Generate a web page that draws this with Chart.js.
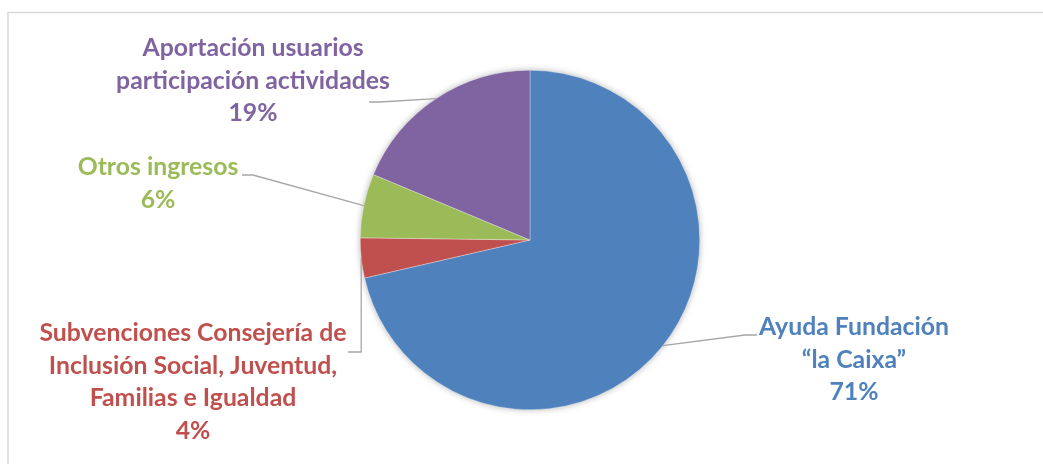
<!DOCTYPE html>
<html>
<head>
<meta charset="utf-8">
<script src="https://cdn.jsdelivr.net/npm/chart.js@4.4.0/dist/chart.umd.min.js"></script>
<style>
	body { margin: 0; background: #ffffff; }
	#wrap { width: 1043px; height: 464px; }
</style>
</head>
<body>
<div id="wrap"><canvas id="myChart" width="1043" height="464"></canvas></div>
<script>
// datos del gráfico
var categories = [
	'Ayuda Fundación “la Caixa”',
	'Subvenciones Consejería de Inclusión Social, Juventud, Familias e Igualdad',
	'Otros ingresos',
	'Aportación usuarios participación actividades'
];
var labelLines = [
	['Ayuda Fundación', '“la Caixa”'],
	['Subvenciones Consejería de', 'Inclusión Social, Juventud,', 'Familias e Igualdad'],
	['Otros ingresos'],
	['Aportación usuarios', 'participación actividades']
];
var values = [71.4, 3.8, 6.1, 18.7];
var colors = ['#4F81BD', '#C0504D', '#9BBB59', '#8064A2'];

// posicion de las etiquetas: centro x, primera linea base y, codo y final de la linea guia
var placement = [
	{ x: 854, y: 335, elbow: [745, 335], end: [757, 335] },
	{ x: 193, y: 341, elbow: [360, 352], end: [348, 352] },
	{ x: 158, y: 175, elbow: [253, 175], end: [242, 175] },
	{ x: 253, y: 56, elbow: [380, 102], end: [369, 102] }
];

var fontFamily = 'Lato, "Open Sans", sans-serif';
var lineHeight = 32.7;

var total = values.reduce(function(a, b) { return a + b; }, 0);

var framePlugin = {
	id: 'frame',
	beforeDraw: function(chart) {
		var ctx = chart.ctx;
		ctx.save();
		ctx.strokeStyle = '#D9D9D9';
		ctx.lineWidth = 1.5;
		ctx.strokeRect(8, 12.5, 1100, 500);
		ctx.restore();
	},
	beforeDatasetsDraw: function(chart) {
		// sombra suave alrededor del pastel
		var arc = chart.getDatasetMeta(0).data[0];
		var ctx = chart.ctx;
		ctx.save();
		ctx.shadowColor = 'rgba(0, 0, 0, 0.35)';
		ctx.shadowBlur = 7;
		ctx.fillStyle = '#ffffff';
		ctx.beginPath();
		ctx.arc(arc.x, arc.y, arc.outerRadius - 0.5, 0, Math.PI * 2);
		ctx.fill();
		ctx.restore();
	}
};

var labelPlugin = {
	id: 'pieLabels',
	afterDraw: function(chart) {
		var ctx = chart.ctx;
		var meta = chart.getDatasetMeta(0);
		ctx.save();
		// ajustar tamaño de fuente al ancho de la etiqueta mas larga del original
		ctx.font = 'bold 100px ' + fontFamily;
		var w = ctx.measureText('participación actividades').width;
		var size = 100 * 274 / w;
		ctx.font = 'bold ' + size.toFixed(2) + 'px ' + fontFamily;
		ctx.textAlign = 'center';
		ctx.textBaseline = 'alphabetic';

		meta.data.forEach(function(arc, i) {
			var p = placement[i];
			var mid = (arc.startAngle + arc.endAngle) / 2;
			var ax = arc.x + Math.cos(mid) * arc.outerRadius;
			var ay = arc.y + Math.sin(mid) * arc.outerRadius;

			// linea guia
			ctx.strokeStyle = '#A6A6A6';
			ctx.lineWidth = 1.3;
			ctx.beginPath();
			ctx.moveTo(ax, ay);
			if (i === 1) {
				ctx.lineTo(ax, p.elbow[1]);
			} else {
				ctx.lineTo(p.elbow[0], p.elbow[1]);
			}
			ctx.lineTo(p.end[0], p.end[1]);
			ctx.stroke();

			// texto
			ctx.fillStyle = colors[i];
			var lines = labelLines[i].concat([Math.round(values[i] / total * 100) + '%']);
			for (var k = 0; k < lines.length; k++) {
				ctx.fillText(lines[k], p.x, p.y + k * lineHeight);
			}
		});
		ctx.restore();
	}
};

var ctx = document.getElementById('myChart').getContext('2d');
var myChart = new Chart(ctx, {
	type: 'pie',
	data: {
		labels: categories,
		datasets: [{
			data: values,
			backgroundColor: colors,
			borderColor: 'rgba(255, 255, 255, 0.6)',
			borderWidth: 0.5
		}]
	},
	options: {
		responsive: false,
		animation: false,
		layout: {
			padding: { left: 360, right: 343, top: 70, bottom: 54 }
		},
		plugins: {
			legend: { display: false },
			tooltip: { enabled: false }
		}
	},
	plugins: [framePlugin, labelPlugin]
});
</script>
</body>
</html>
